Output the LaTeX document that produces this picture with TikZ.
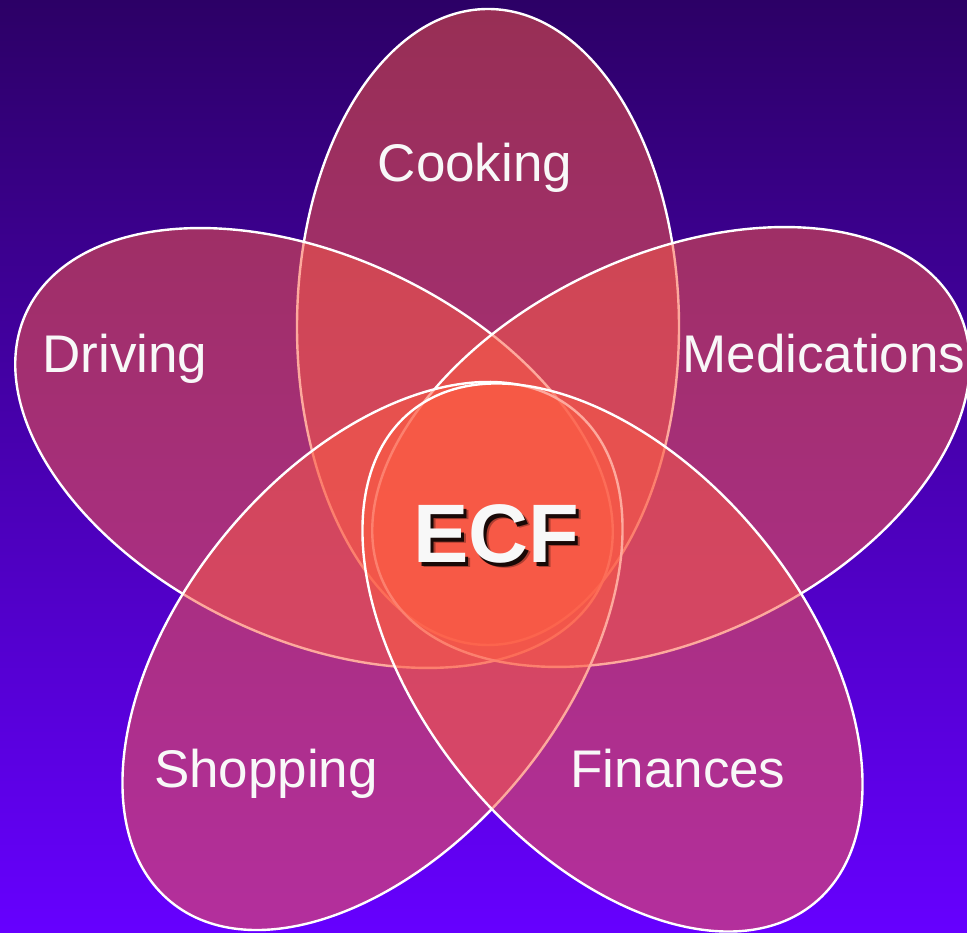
\documentclass[tikz,border=0pt]{standalone}
\usepackage{fontspec}
\setmainfont{Liberation Sans}
\usetikzlibrary{shapes,backgrounds}

\definecolor{bgtop}{RGB}{44,0,102}
\definecolor{bgbottom}{RGB}{102,0,255}
\definecolor{petalfill}{RGB}{252,92,68}
\definecolor{textwhite}{RGB}{248,248,248}

\begin{document}
\begin{tikzpicture}[x=1pt,y=1pt,
    petal/.style={draw=white, line width=2.4pt, fill=petalfill, fill opacity=0.52},
    setname/.style={text=textwhite, font=\fontsize{53}{60}\selectfont, anchor=base, inner sep=0pt},
    core/.style={font=\bfseries\fontsize{83}{90}\selectfont, anchor=base, inner sep=0pt}]
    \clip (0,0) rectangle (967,933);
    \shade[top color=bgtop, bottom color=bgbottom] (0,0) rectangle (967,933);

    % the five petals, back to front
    \path[petal] (488,606) ellipse [x radius=191pt, y radius=318pt];
    \path[petal, rotate around={-25.4:(314,485)}] (314,485) ellipse [x radius=318pt, y radius=191pt];
    \path[petal, rotate around={25.4:(671,486)}] (671,486) ellipse [x radius=318pt, y radius=191pt];
    \path[petal, rotate around={50.6:(372.5,277)}] (372.5,277) ellipse [x radius=318pt, y radius=191pt];
    \path[petal, rotate around={-50.6:(612.5,275.5)}] (612.5,275.5) ellipse [x radius=318pt, y radius=191pt];

    \node[setname] (cooking) at (475,751) {Cooking};
    \node[setname] (driving) at (125,560) {Driving};
    \node[setname] (medications) at (824,560) {Medications};
    \node[setname] (shopping) at (266,145) {Shopping};
    \node[setname] (finances) at (678,145) {Finances};

    \node[core, text=black, opacity=0.3] (ecfblur) at (501,365) {ECF};
    \node[core, text=black, opacity=0.85] (ecfshadow) at (499.5,366.5) {ECF};
    \node[core, text=textwhite] (ecf) at (496,370) {ECF};
\end{tikzpicture}
\end{document}
